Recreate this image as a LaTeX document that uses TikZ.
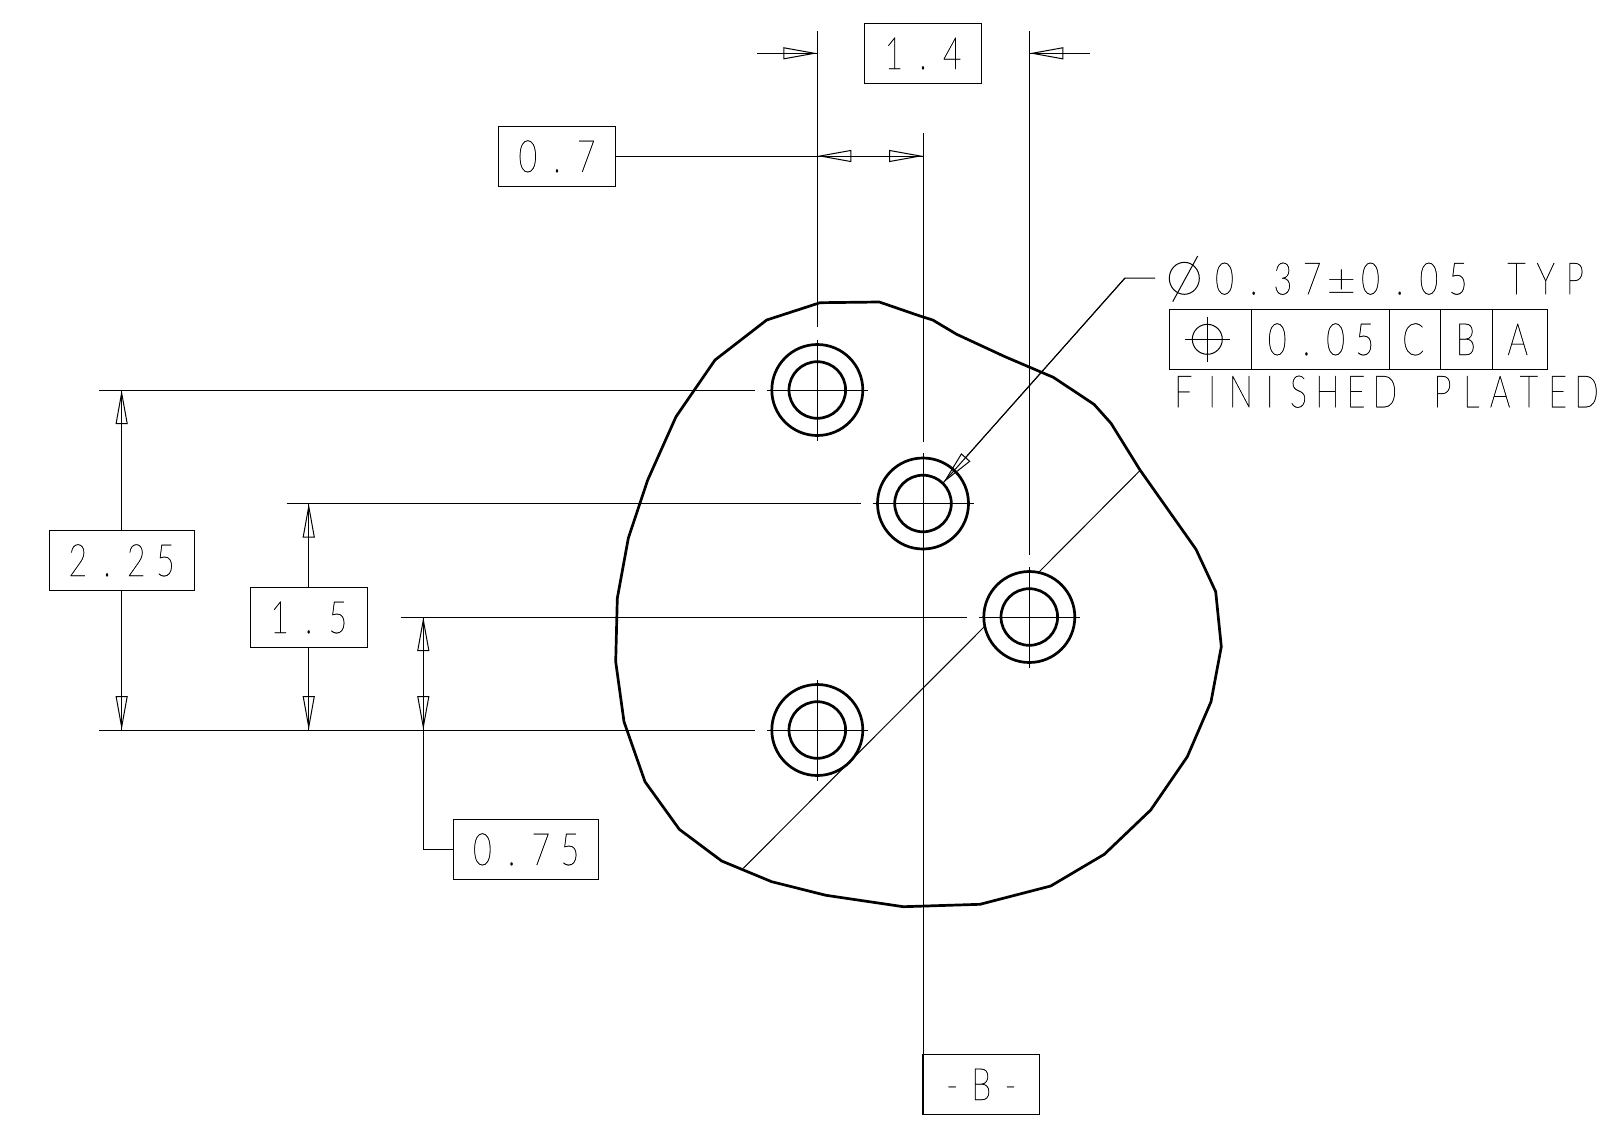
\documentclass[tikz,border=0pt]{standalone}
\usepackage{fontspec}
\usetikzlibrary{arrows.meta,calc}
\newfontfamily\cadfont[FakeStretch=0.72,FakeBold=0.6]{Lato Thin}
\newlength\cadpitch
\setlength\cadpitch{14.6pt}
\newcommand\cadpm{\scalebox{1.6}[1]{±}}
\makeatletter
\newcommand\cadstr[1]{\cadfont\fontsize{22.3pt}{24pt}\selectfont\@tfor\cadch:=#1\do{\makebox[\cadpitch][c]{\cadch}}}
\makeatother
\tikzset{
 thinline/.style={line width=0.5pt,black},
 outline/.style={line width=1.35pt,black,line join=round},
 hd/.tip={Triangle[open,length=17pt,width=6pt]},
 headed/.style={thinline,-hd},
 headedboth/.style={thinline,hd-hd},
 dimbox/.style={draw,thinline,rectangle,inner sep=0pt,minimum height=30pt,text height=16pt,text depth=0pt},
 caption/.style={inner sep=0pt,anchor=base west,text depth=0pt},
 hole/.style={line width=1.35pt,black}
}
\begin{document}
\begin{tikzpicture}[x=0.5pt,y=-0.5pt]
\useasboundingbox (0,0) rectangle (1622,1124);
% hole centres
\coordinate (H1) at (817.3,390);
\coordinate (H2) at (923,503.5);
\coordinate (H3) at (1029.3,617);
\coordinate (H4) at (817.3,730);
% outline
\draw[outline] (820,302.7) -- (879.3,302) -- (920,316) -- (932.7,320) -- (956.7,334.3) -- (1005,356.7) -- (1053.3,377.3) -- (1094,404.3) -- (1111,423.3) -- (1140,470) -- (1196,549.3) -- (1215.7,591.7) -- (1221.3,646.7) -- (1211,701.7) -- (1187.3,756.7) -- (1150.7,810) -- (1104.3,854.3) -- (1050.7,886) -- (980,904.3) -- (903.3,906.7) -- (826,895.3) -- (771.7,881.7) -- (721.7,861) -- (679.3,829.3) -- (645,781.7) -- (624,721.7) -- (615.7,661.7) -- (617.3,598.3) -- (628.3,538.3) -- (647.7,480) -- (676,416.7) -- (715,360) -- (766.7,320) -- cycle;
% holes
\foreach \h in {H1,H2,H3,H4}{
  \draw[hole] (\h) circle (45.5) (\h) circle (28.3);
  \draw[thinline] ($(\h)+(-50.5,0)$) -- ($(\h)+(50.5,0)$);
  \draw[thinline] ($(\h)+(0,-50.5)$) -- ($(\h)+(0,50.5)$);
}
% extension lines, vertical
\coordinate (T1) at (817.3,31);
\coordinate (T2) at (923,133);
\coordinate (T3) at (1029.3,31);
\coordinate (B2) at (923,1054);
\draw[thinline] (T1) -- ($(H1)+(0,-63)$);
\draw[thinline] (T2) -- ($(H2)+(0,-62)$);
\draw[thinline] (T3) -- ($(H3)+(0,-62)$);
% extension lines, horizontal
\coordinate (L1) at (99,390);
\coordinate (L2) at (286.5,503.5);
\coordinate (L3) at (400.8,617);
\coordinate (L4) at (99,730);
\draw[thinline] (L1) -- ($(H1)+(-62,0)$);
\draw[thinline] (L2) -- ($(H2)+(-62,0)$);
\draw[thinline] (L3) -- ($(H3)+(-62,0)$);
\draw[thinline] (L4) -- ($(H4)+(-62,0)$);
% boxes
\node[dimbox,minimum width=58.2pt] (d14) at (923,53) {\cadstr{1.4}};
\node[dimbox,minimum width=58.4pt] (d07) at (557,156) {\cadstr{0.7}};
\node[dimbox,minimum width=72.6pt] (d225) at (121.65,560) {\cadstr{2.25}};
\node[dimbox,minimum width=58.6pt] (d15) at (308.75,617) {\cadstr{1.5}};
\node[dimbox,minimum width=72.6pt] (d075) at (526.2,849) {\cadstr{0.75}};
\node[dimbox,minimum width=58.4pt] (dB) at (981.3,1084) {\cadstr{-B-}};
% datum B
\draw[thinline] ($(H2)+(0,50.5)$) -- (B2);
\draw[thinline] (B2) -- (923,1114);
% top dims
\coordinate (a14l) at (757,53.3);
\coordinate (a14r) at (1090,53.3);
\draw[headed] (a14l) -- (a14l-|T1);
\draw[thinline] (a14l) -- (a14l-|T1);
\draw[headed] (a14r) -- (a14r-|T3);
\draw[thinline] (a14r) -- (a14r-|T3);
\draw[headedboth] (d07.east-|T1) -- (d07.east-|T2);
\draw[thinline] (d07.east) -- (d07.east-|T2);
% left dims
\draw[headed] (d225.north) -- (d225.north|-L1);
\draw[thinline] (d225.north) -- (d225.north|-L1);
\draw[headed] (d225.south) -- (d225.south|-L4);
\draw[thinline] (d225.south) -- (d225.south|-L4);
\draw[headed] (d15.north) -- (d15.north|-L2);
\draw[thinline] (d15.north) -- (d15.north|-L2);
\draw[headed] (d15.south) -- (d15.south|-L4);
\draw[thinline] (d15.south) -- (d15.south|-L4);
\coordinate (v3) at (423.3,617);
\draw[headedboth] (v3) -- (v3|-L4);
\draw[thinline] (v3) -- (v3|-d075.west) -- (d075.west);
% section diagonal
\coordinate (s1) at (1140,470.5);
\coordinate (s2) at (743.3,868.3);
\draw[thinline] (s1) -- (1039,572);
\draw[thinline] (984.3,626.7) -- (s2);
% leader
\coordinate (tip) at (943.3,482.7);
\coordinate (k1) at (1125,278);
\coordinate (k2) at (1155,278);
\draw[headed] (k1) -- (tip);
\draw[thinline] (k2) -- (k1) -- (tip);
% diameter symbol and tolerance
\draw[thinline] (1184.3,278.3) ellipse (15 and 16);
\draw[thinline] (1172.7,301.7) -- (1197.7,256);
\node[caption] (dia) at (1209.5,294.3) {\cadstr{0.37{\cadpm}0.05~TYP}};
% feature control frame
\coordinate (f1) at (1169.3,309.3);
\coordinate (f2) at (1547.3,369.3);
\draw[thinline] (f1) rectangle (f2);
\foreach \x in {1251.7,1389.3,1440.7,1492.3}{\draw[thinline] (\x,309.3) -- (\x,369.3);}
\draw[thinline] (1207.3,339.3) circle (15);
\draw[thinline] (1184.8,339.3) -- (1229.8,339.3);
\draw[thinline] (1207.3,316.8) -- (1207.3,361.8);
\node[caption] (tol) at (1262.2,355) {\cadstr{0.05}};
\node[caption,anchor=base] (dC) at (1413.3,355) {\cadstr{C}};
\node[caption,anchor=base] (dBB) at (1465.7,355) {\cadstr{B}};
\node[caption,anchor=base] (dA) at (1517.7,355) {\cadstr{A}};
\node[caption] (note) at (1168.5,407.3) {\setlength\cadpitch{14.4pt}\cadstr{FINISHED~PLATED}};
\end{tikzpicture}
\end{document}
